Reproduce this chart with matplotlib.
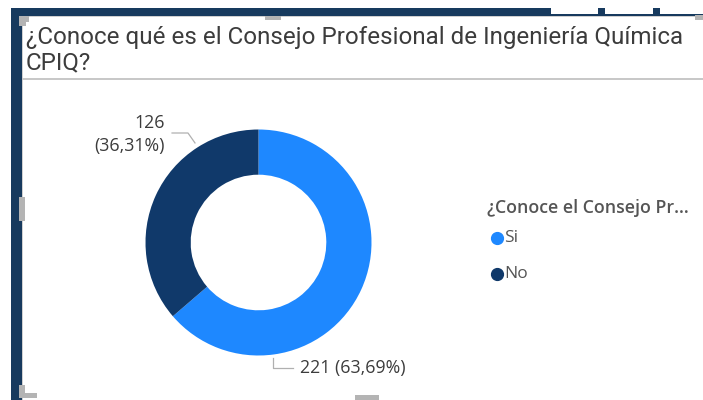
import matplotlib.pyplot as plt
from matplotlib.lines import Line2D
from matplotlib.patches import Rectangle

# data
categories = ['Si', 'No']
counts = [221, 126]
colors = ['#1E88FF', '#10396A']
title = '¿Conoce qué es el Consejo Profesional de Ingeniería Química\nCPIQ?'
legend_title = '¿Conoce el Consejo Pr...'

W, H = 703, 400
fig = plt.figure(figsize=(W / 100, H / 100), dpi=100)
fig.patch.set_facecolor('white')


def px(x, y, w, h, color, z=0):
    # rectangle in pixel coords measured from top-left
    fig.patches.append(Rectangle((x / W, 1 - (y + h) / H), w / W, h / H,
                                 transform=fig.transFigure, color=color,
                                 zorder=z, lw=0))


def fx(x):
    return x / W


def fy(y):
    return 1 - y / H


# dashboard background strips and panel frame
navy = '#173A5E'
px(11, 8, 11, 392, navy)
px(11, 8, 540, 8, navy)
px(551, 14, 152, 2, navy)
px(598, 8, 7, 8, navy)
px(653, 8, 7, 8, navy)
px(22, 16, 681, 1, '#d0d0d0')
px(22, 16, 1, 384, '#d0d0d0')
# title separator
px(22, 78, 681, 2, '#c8c8c8')
# resize handles
grip = '#b4b4b4'
px(19, 16, 7, 10, grip)
px(19, 16, 10, 6, grip)
px(265, 16, 16, 4, grip)
px(19, 197, 6, 24, grip)
px(19, 385, 6, 13, grip)
px(19, 393, 18, 5, grip)
px(355, 395, 24, 5, grip)
px(695, 15, 8, 5, grip)

t = fig.text(fx(26), fy(26), title, ha='left', va='top', fontsize=14,
             color='#3c3c3c', family='Roboto', linespacing=1.12)
fig.canvas.draw()
bb = t.get_window_extent()
t.set_fontsize(14 * 661 / bb.width)

# donut
cx, cy, r = 258.5, 242.5, 113
lim = 1.25
side = 2 * lim * r
ax = fig.add_axes([(cx - side / 2) / W, (H - cy - side / 2) / H, side / W, side / H])
wedges, _ = ax.pie(counts, colors=colors, startangle=90, counterclock=False,
                   wedgeprops=dict(width=0.40, edgecolor='none'))
ax.set_xlim(-lim, lim)
ax.set_ylim(-lim, lim)
ax.set_aspect('equal')
ax.axis('off')

total = sum(counts)
labels = [f'{c} ({c / total * 100:.2f}%)'.replace('.', ',') for c in counts]
lc = '#b0b0b0'
lab_font = dict(family='Open Sans', fontsize=12.8, color='#3c3c3c')

# No label (two lines, left)
ax.plot([-0.562, -0.624, -0.765], [0.881, 0.969, 0.969], color=lc, lw=0.9, clip_on=False)
ax.text(-0.827, 0.955, labels[1].replace(' ', '\n'), ha='right', va='center',
        linespacing=1.4, multialignment='right', **lab_font)
# Si label (bottom)
ax.plot([0.128, 0.128, 0.305], [-1.022, -1.111, -1.111], color=lc, lw=0.9, clip_on=False)
ax.text(0.367, -1.111, labels[0], ha='left', va='center', **lab_font)

# legend drawn by hand
fig.text(fx(487), fy(208), legend_title, ha='left', va='center', family='Open Sans',
         fontsize=12.8, weight='semibold', color='#555555')
for i, (cat, col) in enumerate(zip(categories, colors)):
    yy = 238 + i * 36
    fig.add_artist(Line2D([fx(497)], [fy(yy)], marker='o', markersize=8.5, ls='none',
                          color=col, transform=fig.transFigure))
    fig.text(fx(504), fy(yy), cat, ha='left', va='center', family='Open Sans',
             fontsize=12.5, color='#555555')

fig.savefig('out.png', dpi=100)
